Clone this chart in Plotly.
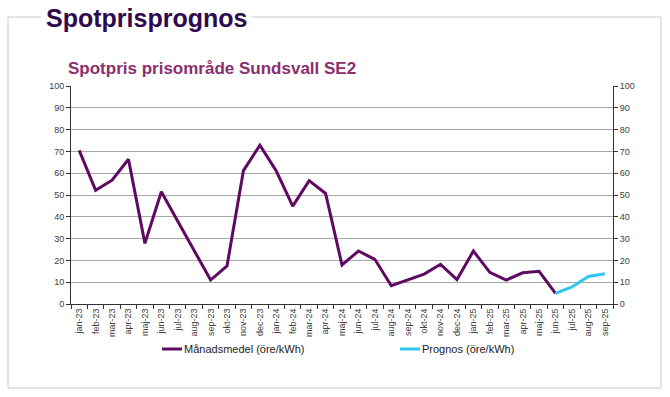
import plotly.graph_objects as go

months = ["jan-23","feb-23","mar-23","apr-23","maj-23","jun-23","jul-23","aug-23","sep-23","okt-23",
          "nov-23","dec-23","jan-24","feb-24","mar-24","apr-24","maj-24","jun-24","jul-24","aug-24",
          "sep-24","okt-24","nov-24","dec-24","jan-25","feb-25","mar-25","apr-25","maj-25","jun-25",
          "jul-25","aug-25","sep-25"]

manadsmedel_months = months[:30]
manadsmedel = [70.5, 52.2, 56.8, 66.4, 27.8, 51.5, 38.0, 24.4, 11.0, 17.5,
               61.2, 72.8, 61.0, 44.9, 56.6, 50.7, 17.9, 24.3, 20.5, 8.4,
               11.0, 13.7, 18.2, 11.2, 24.3, 14.5, 11.0, 14.3, 15.0, 4.9]

prognos_months = ["jun-25","jul-25","aug-25","sep-25"]
prognos = [4.9, 7.8, 12.6, 13.9]

y_ticks = list(range(0, 101, 10))

FONT = "Liberation Sans, Arial, sans-serif"
PURPLE = "#5e0a62"
CYAN = "#2ec5ef"

W, H = 670, 397
# target plot area in window pixels: x 71..613, y 86..304
L, T = 71, 86
pw, ph = 542, 218
R = W - L - pw
B = H - T - ph

def px(x):
    return (x - L) / pw

def py(y):
    return (T + ph - y) / ph

fig = go.Figure()
fig.add_trace(go.Scatter(x=manadsmedel_months, y=manadsmedel, mode="lines",
                         name="Månadsmedel (öre/kWh)",
                         line=dict(color=PURPLE, width=3)))
fig.add_trace(go.Scatter(x=prognos_months, y=prognos, mode="lines",
                         name="Prognos (öre/kWh)", yaxis="y2",
                         line=dict(color=CYAN, width=3)))

axis_font = dict(family=FONT, size=9, color="#404040")

legend_y = py(349)
legend_items = [("Månadsmedel (öre/kWh)", PURPLE, 162), ("Prognos (öre/kWh)", CYAN, 400)]

shapes = [
    dict(type="rect", xref="paper", yref="paper",
         x0=px(8), x1=px(661), y0=py(388), y1=py(17),
         line=dict(color="#c8c8c8", width=1), fillcolor="rgba(0,0,0,0)", layer="below"),
]
annotations = [
    dict(text="<b>Spotprisprognos</b>", xref="paper", yref="paper",
         x=px(41), y=py(18), xanchor="left", yanchor="middle", showarrow=False,
         font=dict(family=FONT, size=25, color="#2e0b4f"), bgcolor="white",
         borderpad=4),
    dict(text="<b>Spotpris prisområde Sundsvall SE2</b>", xref="paper", yref="paper",
         x=px(66), y=py(68), xanchor="left", yanchor="middle", showarrow=False,
         font=dict(family=FONT, size=17, color="#8b2e6e")),
]
for name, color, x0 in legend_items:
    shapes.append(dict(type="line", xref="paper", yref="paper",
                       x0=px(x0), x1=px(x0 + 20), y0=legend_y, y1=legend_y,
                       line=dict(color=color, width=3)))
    annotations.append(dict(text=name, xref="paper", yref="paper",
                            x=px(x0 + 20), y=legend_y, xanchor="left", yanchor="middle",
                            showarrow=False, font=dict(family=FONT, size=11, color="#222")))

fig.update_layout(
    width=W, height=H,
    margin=dict(l=L, r=R, t=T, b=B, pad=0),
    paper_bgcolor="white", plot_bgcolor="white",
    font=dict(family=FONT),
    xaxis=dict(type="category", categoryorder="array", categoryarray=months,
               range=[-0.5, len(months) - 0.5], tickangle=-90,
               tickfont=axis_font, ticks="outside", ticklen=4, tickcolor="#333",
               tickson="boundaries", showline=True, linecolor="#333", linewidth=1,
               showgrid=False, zeroline=False),
    yaxis=dict(range=[0, 100], tickvals=y_ticks, tickfont=axis_font,
               ticks="outside", ticklen=4, tickcolor="#333",
               showline=True, linecolor="#333", linewidth=1,
               showgrid=True, gridcolor="#a8a8a8", gridwidth=1, zeroline=False),
    yaxis2=dict(range=[0, 100], tickvals=y_ticks, tickfont=axis_font, overlaying="y",
                side="right", ticks="outside", ticklen=4, tickcolor="#333",
                showline=True, linecolor="#333", linewidth=1,
                showgrid=False, zeroline=False),
    showlegend=False,
    shapes=shapes,
    annotations=annotations,
)

fig.write_html("out.html", config={"displayModeBar": False},
               post_script="document.body.style.margin='0px';")
